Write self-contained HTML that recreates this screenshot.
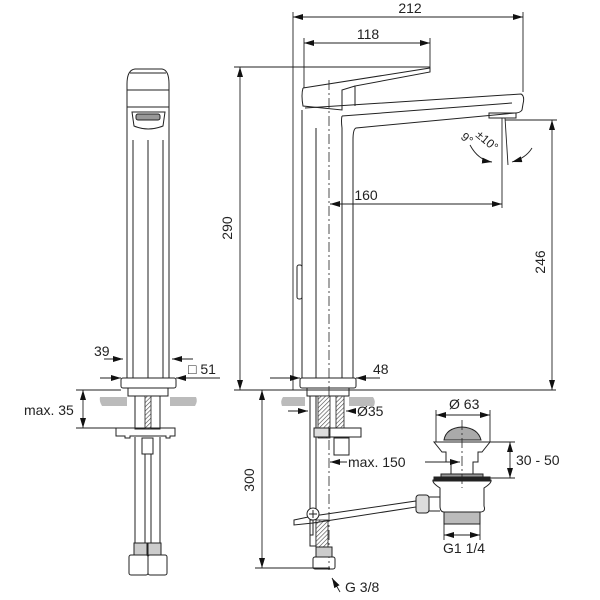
<!DOCTYPE html>
<html><head><style>body{margin:0;background:#fff}svg{display:block}text{font-family:"Liberation Sans",sans-serif;fill:#222}</style></head>
<body>
<svg width="600" height="600" viewBox="0 0 600 600" xmlns="http://www.w3.org/2000/svg">
<defs>
<marker id="a" viewBox="0 0 10 6" refX="10" refY="3" markerWidth="10" markerHeight="6" orient="auto-start-reverse" markerUnits="userSpaceOnUse"><path d="M0,0L10,3L0,6z" fill="#111"/></marker>
<pattern id="h" width="3" height="3" patternUnits="userSpaceOnUse" patternTransform="rotate(45)"><rect width="3" height="3" fill="#fff"/><line x1="0" y1="0" x2="0" y2="3" stroke="#444" stroke-width="1.2"/></pattern>
</defs>
<g fill="none" stroke="#222" stroke-width="1">
<path d="M127,378V84Q127,70 135,69H162Q169,70 169,84V378" />
<line x1="127" y1="90" x2="169" y2="90"/><line x1="130" y1="73" x2="166" y2="73"/>
<line x1="127" y1="107" x2="169" y2="107"/>
<path d="M132,112H165L163,126Q148,132 134,126Z"/><rect x="136" y="114" width="24" height="6" rx="2" fill="#999"/>
<line x1="133" y1="140" x2="133" y2="378"/><line x1="148" y1="140" x2="148" y2="378"/><line x1="163" y1="140" x2="163" y2="378"/>
<rect x="121" y="378" width="55" height="10" rx="2"/>
<rect x="128" y="388" width="40" height="8"/>
<rect x="135" y="396" width="25" height="33"/>
<rect x="145" y="396" width="6" height="33" fill="url(#h)" stroke-width="0.8"/>
<path d="M116,428H175V436H170V438H166V436H130V438H125V436H116Z"/>
<rect x="142" y="438" width="11" height="16"/>
<line x1="135" y1="437" x2="135" y2="548"/><line x1="160" y1="437" x2="160" y2="548"/>
<line x1="145" y1="454" x2="145" y2="548"/><line x1="151" y1="454" x2="151" y2="548"/>
<rect x="134" y="543" width="13" height="12" fill="#ccc"/><rect x="148" y="543" width="13" height="12" fill="#ccc"/>
<rect x="129" y="555" width="19" height="20" rx="2"/><rect x="148" y="555" width="19" height="20" rx="2"/>
<path d="M303,88L430,68V72L355,86V106"/>
<path d="M303,88Q301,95 303,106L342,110V90L355,86"/>
<path d="M305,108L521,94Q525,96 523,104L522,110Q520,113 515,113L356,128Q353,129 353,140V378"/>
<path d="M342,116L512,103"/><path d="M342,116Q341,120 342,128V378"/>
<path d="M302,110V378"/><path d="M316,128V378"/>
<rect x="489" y="113" width="27" height="5"/>
<rect x="297" y="265" width="5" height="34" rx="2"/>
<line x1="329" y1="80" x2="329" y2="570" stroke-dasharray="10,3,2,3" stroke-width="0.8"/>
<rect x="300" y="378" width="56" height="10" rx="2"/>
<rect x="307" y="388" width="42" height="8"/>
<rect x="310" y="396" width="6" height="150"/>
<rect x="318" y="396" width="12" height="42" fill="url(#h)" stroke-width="0.8"/>
<rect x="336" y="396" width="8" height="32" fill="url(#h)" stroke-width="0.8"/>
<rect x="314" y="428" width="15" height="9" fill="#ddd"/>
<rect x="329" y="428" width="32" height="9"/>
<rect x="334" y="438" width="15" height="17"/>
<rect x="316" y="520" width="12" height="30" fill="url(#h)" stroke-width="0.8"/>
<rect x="316" y="547" width="16" height="10" fill="#ccc"/>
<rect x="313" y="557" width="22" height="12" rx="2"/>
<path d="M294,520L313,516L416,501V507L313,523L294,525Z"/>
<circle cx="313" cy="514" r="6" fill="#fff"/><path d="M309,514h8M313,510v8"/>
<rect x="310" y="520" width="3" height="15"/>
<path d="M444,440Q446,428 462,427Q478,428 481,440Z" fill="#aaa"/>
<path d="M434,442H490L482,452H478V462H473V476H451V462H446V452H442Z"/>
<rect x="441" y="474" width="42" height="5" fill="#999"/>
<path d="M433,480H491Q492,483 484,488V506Q486,512 480,512H444Q440,512 440,506V488Q432,483 433,480Z"/>
<rect x="434" y="477" width="56" height="4" fill="#222"/>
<rect x="444" y="512" width="36" height="12" fill="#bbb"/>
<rect x="416" y="495" width="13" height="18" rx="3" fill="#ddd"/>
<path d="M429,497H440M429,511H440"/>
<line x1="462" y1="420" x2="462" y2="488" stroke-dasharray="10,3,2,3" stroke-width="0.8"/>
</g>
<g fill="#bbb"><path d="M100,397H127V406H102Q99,401 100,397Z"/><path d="M170,397H196Q198,401 195,406H170Z"/>
<path d="M283,397H305V406H282Q280,401 283,397Z"/><path d="M349,397H373Q376,401 374,406H349Z"/></g>
<g stroke="#222" stroke-width="0.9" fill="none">
<line x1="293" y1="12" x2="293" y2="390"/><line x1="523" y1="12" x2="523" y2="92"/>
<line x1="293" y1="17" x2="523" y2="17" marker-start="url(#a)" marker-end="url(#a)"/>
<line x1="304" y1="38" x2="304" y2="88"/><line x1="430" y1="38" x2="430" y2="68"/>
<line x1="304" y1="43" x2="430" y2="43" marker-start="url(#a)" marker-end="url(#a)"/>
<line x1="234" y1="67" x2="430" y2="67"/>
<line x1="240" y1="67" x2="240" y2="390" marker-start="url(#a)" marker-end="url(#a)"/>
<line x1="234" y1="390" x2="556" y2="390"/>
<line x1="505" y1="120" x2="557" y2="120"/>
<line x1="552" y1="120" x2="552" y2="390" marker-start="url(#a)" marker-end="url(#a)"/>
<line x1="502" y1="118" x2="502" y2="208"/>
<line x1="330" y1="204" x2="502" y2="204" marker-start="url(#a)" marker-end="url(#a)"/>
<line x1="505" y1="118" x2="508" y2="165"/>
<path d="M470,145Q478,160 492,162" marker-end="url(#a)"/><path d="M532,148Q526,158 512,162" marker-end="url(#a)"/>
<line x1="104" y1="359" x2="123" y2="359" marker-end="url(#a)"/><line x1="193" y1="359" x2="172" y2="359" marker-end="url(#a)"/>
<line x1="100" y1="378" x2="121" y2="378" marker-end="url(#a)"/><line x1="220" y1="378" x2="176" y2="378" marker-end="url(#a)"/>
<line x1="76" y1="390" x2="121" y2="390"/><line x1="76" y1="428" x2="116" y2="428"/>
<line x1="83" y1="390" x2="83" y2="428" marker-start="url(#a)" marker-end="url(#a)"/>
<line x1="270" y1="378" x2="300" y2="378" marker-end="url(#a)"/><line x1="380" y1="378" x2="356" y2="378" marker-end="url(#a)"/>
<line x1="288" y1="411" x2="308" y2="411" marker-end="url(#a)"/><line x1="356" y1="411" x2="346" y2="411" marker-end="url(#a)"/>
<line x1="262" y1="390" x2="262" y2="568" marker-start="url(#a)" marker-end="url(#a)"/>
<line x1="255" y1="568" x2="330" y2="568"/>
<line x1="347" y1="462" x2="330" y2="462" marker-end="url(#a)"/><line x1="425" y1="462" x2="460" y2="462" marker-end="url(#a)"/>
<line x1="436" y1="410" x2="436" y2="442"/><line x1="490" y1="410" x2="490" y2="442"/>
<line x1="436" y1="415" x2="490" y2="415" marker-start="url(#a)" marker-end="url(#a)"/>
<line x1="490" y1="442" x2="515" y2="442"/><line x1="490" y1="478" x2="515" y2="478"/>
<line x1="510" y1="442" x2="510" y2="478" marker-start="url(#a)" marker-end="url(#a)"/>
<line x1="444" y1="524" x2="444" y2="540"/><line x1="480" y1="524" x2="480" y2="540"/>
<line x1="444" y1="535" x2="480" y2="535" marker-start="url(#a)" marker-end="url(#a)"/>
<path d="M340,592L332,578" marker-end="url(#a)"/>
</g>
<g font-size="14">
<text x="410" y="13" text-anchor="middle">212</text>
<text x="368" y="39" text-anchor="middle">118</text>
<text x="366" y="200" text-anchor="middle">160</text>
<text x="232" y="228" text-anchor="middle" transform="rotate(-90 232 228)">290</text>
<text x="545" y="262" text-anchor="middle" transform="rotate(-90 545 262)">246</text>
<text x="254" y="480" text-anchor="middle" transform="rotate(-90 254 480)">300</text>
<text x="460" y="138" transform="rotate(40 460 138)" font-size="12">9°</text>
<text x="475" y="136" transform="rotate(40 475 136)" font-size="12">±10°</text>
<text x="94" y="356">39</text>
<text x="188" y="374">□ 51</text>
<text x="24" y="415">max. 35</text>
<text x="373" y="374">48</text>
<text x="357" y="416">Ø35</text>
<text x="348" y="467">max. 150</text>
<text x="449" y="409">Ø 63</text>
<text x="516" y="465">30 - 50</text>
<text x="443" y="553">G1 1/4</text>
<text x="345" y="592">G 3/8</text>
</g>
</svg>
</body></html>
